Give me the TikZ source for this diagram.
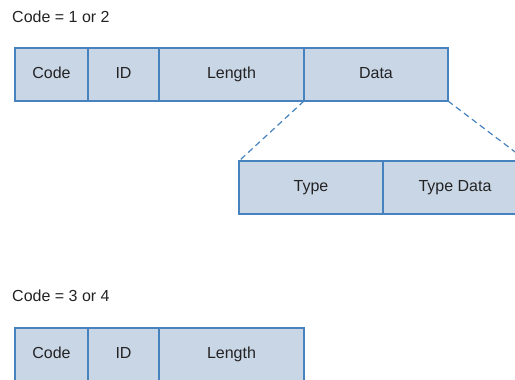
\documentclass[tikz,border=0pt]{standalone}
\usepackage{fontspec}
\setmainfont{Liberation Sans}
\definecolor{cellfill}{RGB}{201,214,230}
\definecolor{celledge}{RGB}{70,130,190}
\definecolor{labeltext}{RGB}{35,35,35}
\begin{document}
\begin{tikzpicture}[x=1pt,y=-1pt,
  cell/.style={draw=celledge,fill=cellfill,line width=1.4pt,
    text=labeltext,font=\fontsize{16}{19}\selectfont,
    text height=11.5pt,text depth=3.5pt,
    inner sep=0pt,outer sep=0pt,minimum height=53pt},
  caption/.style={anchor=base west,inner sep=0pt,text=labeltext,
    font=\fontsize{16}{19}\selectfont},
  zoomline/.style={draw=celledge,line width=1.2pt,dash pattern=on 6pt off 4pt}]
\useasboundingbox (0,0) rectangle (515,380);
\clip (0,0) rectangle (515,380);
% packet layout for Code = 1 or 2
\node[caption] (capA) at (12,22) {Code = 1 or 2};
\node[cell,minimum width=73pt] (codeA) at (51.5,74.5) {Code};
\node[cell,minimum width=71pt] (idA) at (123.5,74.5) {ID};
\node[cell,minimum width=145pt] (lenA) at (231.5,74.5) {Length};
\node[cell,minimum width=144pt] (dataA) at (376,74.5) {Data};
% expansion of the Data field
\node[cell,minimum width=144pt] (type) at (311,187.5) {Type};
\node[cell,minimum width=144pt] (tdata) at (455,187.5) {Type Data};
\draw[zoomline] (dataA.south west) -- (type.north west);
\draw[zoomline] (dataA.south east) -- (tdata.north east);
% packet layout for Code = 3 or 4
\node[caption] (capB) at (12,301) {Code = 3 or 4};
\node[cell,minimum width=73pt] (codeB) at (51.5,354.5) {Code};
\node[cell,minimum width=71pt] (idB) at (123.5,354.5) {ID};
\node[cell,minimum width=145pt] (lenB) at (231.5,354.5) {Length};
\end{tikzpicture}
\end{document}
